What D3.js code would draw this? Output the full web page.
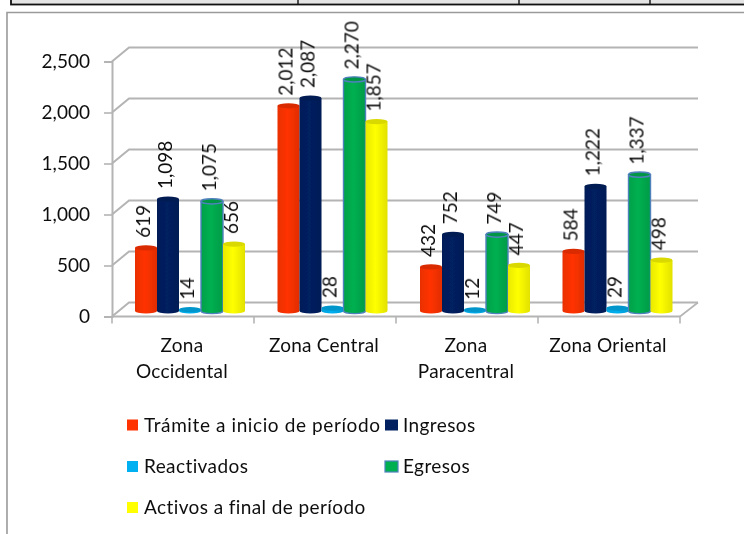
<!DOCTYPE html>
<html>
<head>
<meta charset="utf-8">
<script src="https://cdn.jsdelivr.net/npm/d3@7"></script>
<style>
html, body { margin: 0; padding: 0; background: #fff; }
text { font-family: Lato, "Open Sans", sans-serif; fill: #111; }
</style>
</head>
<body>
<div id="chart"></div>
<script>
var zonas = ["Zona Occidental", "Zona Central", "Zona Paracentral", "Zona Oriental"];
var series = ["Trámite a inicio de período", "Ingresos", "Reactivados", "Egresos", "Activos a final de período"];
var tramite = [619, 2012, 432, 584];
var ingresos = [1098, 2087, 752, 1222];
var reactivados = [14, 28, 12, 29];
var egresos = [1075, 2270, 749, 1337];
var activos = [656, 1857, 447, 498];
var yTicks = [0, 500, 1000, 1500, 2000, 2500];
var colores = ["#ff3300", "#002060", "#00b0f0", "#00b050", "#ffff00"];
var valores = [tramite, ingresos, reactivados, egresos, activos];

var width = 744, height = 534;
var svg = d3.select("#chart").append("svg")
    .attr("width", width)
    .attr("height", height)
    .style("display", "block");

var defs = svg.append("defs");
defs.append("filter").attr("id", "soft")
  .append("feGaussianBlur").attr("stdDeviation", 0.5);
defs.append("filter").attr("id", "softText")
  .append("feGaussianBlur").attr("stdDeviation", 0.25);

// cylinder shading, one gradient for each series
colores.forEach(function(c, i) {
  var g = defs.append("linearGradient").attr("id", "cyl" + i);
  g.append("stop").attr("offset", "0%").attr("stop-color", d3.rgb(c).darker(0.25));
  g.append("stop").attr("offset", "45%").attr("stop-color", c);
  g.append("stop").attr("offset", "100%").attr("stop-color", d3.rgb(c).darker(0.35));
});

// table row above the chart, and the frame of the chart
svg.append("rect").attr("x", 11).attr("y", -2).attr("width", 740).attr("height", 6.5)
    .attr("fill", "#e4e4e4").attr("stroke", "#111").attr("stroke-width", 1.8);
[298, 519, 650].forEach(function(x) {
  svg.append("line").attr("x1", x).attr("x2", x).attr("y1", 0).attr("y2", 5)
      .attr("stroke", "#111").attr("stroke-width", 1.4);
});
svg.append("path").attr("d", "M7,534V12.5H744")
    .attr("fill", "none").attr("stroke", "#9a9a9a").attr("stroke-width", 1.6);

var y = d3.scaleLinear().domain([0, 2500]).range([316.5, 61.5]);
var x = d3.scaleBand().domain(zonas).range([112, 680]);
var xBars = d3.scaleBand().domain(zonas).range([112, 682]);
var xs = d3.scaleBand().domain(series).range([0, 110]);
var dx = 17, dy = -14;   // depth of the 3d box

var plot = svg.append("g").attr("filter", "url(#soft)");
var gridColor = "#b4b4b4";

// back wall lines and the slanted part on the left wall
yTicks.forEach(function(t) {
  plot.append("path")
      .attr("d", "M" + 112 + "," + y(t) + "l" + dx + "," + dy + "H" + (680 + dx + 1))
      .attr("fill", "none").attr("stroke", gridColor).attr("stroke-width", 2);
});

// floor edge
plot.append("path")
    .attr("d", "M680," + y(0) + "l" + (dx + 1) + "," + dy)
    .attr("fill", "none").attr("stroke", gridColor).attr("stroke-width", 1.6);

// axes from d3
var yAxis = d3.axisLeft(y).tickValues(yTicks).tickSize(8).tickPadding(14).tickFormat(d3.format(","));
var gy = svg.append("g").attr("transform", "translate(112,0)").call(yAxis);
gy.select(".domain").attr("stroke", gridColor).attr("stroke-width", 2);
gy.selectAll(".tick line").attr("stroke", gridColor).attr("stroke-width", 1.6);
gy.selectAll("text").style("font-size", "19px").attr("filter", "url(#softText)");

var gx = svg.append("g").attr("transform", "translate(0," + y(0) + ")");
gx.append("line").attr("x1", 112).attr("x2", 680)
    .attr("stroke", gridColor).attr("stroke-width", 2);
zonas.concat([null]).forEach(function(z) {
  var px = z ? x(z) : 680;
  gx.append("line").attr("x1", px).attr("x2", px).attr("y1", 0).attr("y2", 7)
      .attr("stroke", gridColor).attr("stroke-width", 1.6);
});

// category labels, broken in two lines when the original does it
var labelLines = { "Zona Occidental": ["Zona", "Occidental"], "Zona Central": ["Zona Central"],
                   "Zona Paracentral": ["Zona", "Paracentral"], "Zona Oriental": ["Zona Oriental"] };
zonas.forEach(function(z) {
  labelLines[z].forEach(function(s, k) {
    svg.append("text")
        .attr("x", x(z) + x.bandwidth() / 2 - 1)
        .attr("y", 352 + k * 26)
        .attr("text-anchor", "middle")
        .attr("filter", "url(#softText)")
        .style("font-size", "19px")
        .style("letter-spacing", "0.25px")
        .text(s);
  });
});

// bars as cylinders
var bars = svg.append("g").attr("filter", "url(#soft)");
var base = 311, pxPerUnit = y(0) - y(1);
series.forEach(function(s, si) {
  zonas.forEach(function(z, zi) {
    var v = valores[si][zi];
    var bx = xBars(z) + 23 + xs(s), bw = xs.bandwidth();
    var top = base - pxPerUnit * v;
    var rx = bw / 2, ry = 2.6;
    var g = bars.append("g");
    g.append("path")
        .attr("d", "M" + bx + "," + top + "V" + base + "A" + rx + "," + ry + " 0 0 0 " + (bx + bw) + "," + base
                 + "V" + top + "Z")
        .attr("fill", "url(#cyl" + si + ")")
        .attr("stroke", s === "Egresos" ? "#4f81bd" : "none")
        .attr("stroke-width", 1.4);
    g.append("ellipse")
        .attr("cx", bx + rx).attr("cy", top).attr("rx", rx).attr("ry", ry)
        .attr("fill", d3.rgb(colores[si]).darker(0.45))
        .attr("stroke", s === "Egresos" ? "#4f81bd" : "none")
        .attr("stroke-width", 1.4);
    svg.append("text")
        .attr("transform", "translate(" + (bx + rx + 4) + "," + (top - 10) + ") rotate(-90)")
        .attr("filter", "url(#softText)")
        .style("font-size", "19px")
        .text(d3.format(",")(v));
  });
});

// legend
var legendRows = [
  { s: series[0], lx: 127, ly: 425 },
  { s: series[1], lx: 385, ly: 425 },
  { s: series[2], lx: 127, ly: 466.5 },
  { s: series[3], lx: 385, ly: 466.5 },
  { s: series[4], lx: 127, ly: 507.5 }
];
legendRows.forEach(function(d) {
  var si = series.indexOf(d.s);
  var sw = si === 1 || si === 3 ? 13 : 11;
  var spacing = si === 0 ? 0.6 : 0.4;
  svg.append("rect").attr("x", d.lx).attr("y", d.ly - 5.5).attr("width", sw).attr("height", 11)
      .attr("fill", colores[si])
      .attr("stroke", d.s === "Egresos" ? "#4f81bd" : "none").attr("stroke-width", 1.2);
  svg.append("text").attr("x", d.lx + (sw === 13 ? 18 : 17)).attr("y", d.ly + 6.5)
      .attr("filter", "url(#softText)")
      .style("font-size", "19px")
      .style("letter-spacing", spacing + "px")
      .text(d.s);
});
</script>
</body>
</html>
